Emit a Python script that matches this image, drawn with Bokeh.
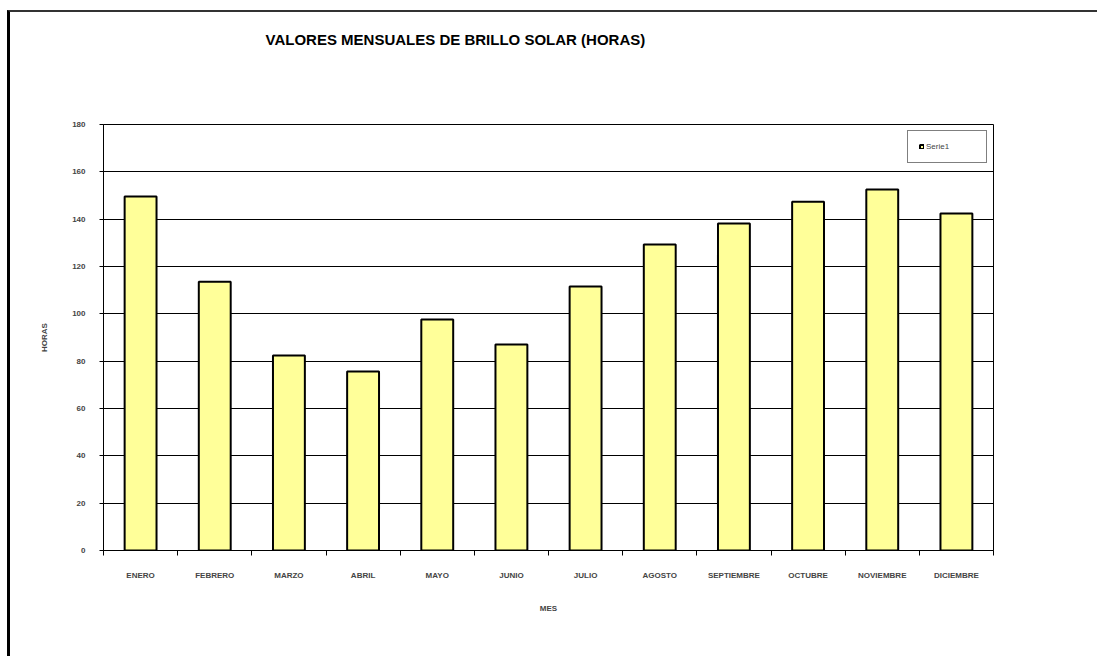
import numpy as np
from bokeh.plotting import figure
from bokeh.models import (Range1d, FixedTicker, Title, Legend, LegendItem, ColumnDataSource,
                          CustomJSTickFormatter)
from bokeh.embed import file_html
from bokeh.resources import INLINE

months = ["ENERO", "FEBRERO", "MARZO", "ABRIL", "MAYO", "JUNIO", "JULIO",
          "AGOSTO", "SEPTIEMBRE", "OCTUBRE", "NOVIEMBRE", "DICIEMBRE"]
hours = [149.6, 113.6, 82.4, 75.6, 97.6, 87.0, 111.5, 129.3, 138.2, 147.4, 152.5, 142.4]
y_ticks = [0, 20, 40, 60, 80, 100, 120, 140, 160, 180]
title_text = "VALORES MENSUALES DE BRILLO SOLAR (HORAS)"
series_name = "Serie1"

FONT = "Liberation Sans"
n = len(months)
centers = (np.arange(n) + 0.5).tolist()
bounds = list(range(n + 1))

p = figure(width=1090, height=646, x_range=Range1d(0, n),
           y_range=Range1d(0, 180), output_backend="svg", toolbar_location=None,
           min_border_left=93, min_border_right=107,
           min_border_top=112, min_border_bottom=108,
           styles={"margin-left": "7px", "margin-top": "10px",
                   "border-left": "3px solid black", "border-top": "2px solid #333"})
p.outline_line_color = "black"
p.outline_line_width = 1
p.xgrid.grid_line_color = None
p.ygrid.grid_line_color = "black"
p.ygrid.grid_line_width = 1
p.ygrid.ticker = FixedTicker(ticks=y_ticks)

src = ColumnDataSource(dict(x=centers, month=months, hours=hours))
r = p.vbar(x="x", top="hours", width=0.43, source=src, fill_color="#FFFF99",
           line_color="black", line_width=2)

# y axis
yax = p.yaxis[0]
yax.ticker = FixedTicker(ticks=y_ticks)
yax.axis_line_color = "black"
yax.major_tick_out = 4
yax.major_tick_in = 0
yax.minor_tick_line_color = None
yax.major_label_standoff = 14
yax.major_label_text_font = FONT
yax.major_label_text_font_style = "bold"
yax.major_label_text_font_size = "8px"
yax.axis_label = "HORAS"
yax.axis_label_text_font = FONT
yax.axis_label_text_font_style = "bold"
yax.axis_label_text_font_size = "8px"
yax.axis_label_standoff = 20

# x axis: labels at centers, ticks at category boundaries
xax = p.xaxis[0]
xax.ticker = FixedTicker(ticks=centers, minor_ticks=bounds)
xax.formatter = CustomJSTickFormatter(args=dict(months=months),
                                      code="return months[Math.floor(tick)] || ''")
xax.axis_line_color = "black"
xax.major_tick_out = 0
xax.major_tick_in = 0
xax.minor_tick_out = 5
xax.minor_tick_in = 0
xax.minor_tick_line_color = "black"
xax.major_label_standoff = 15
xax.major_label_text_font = FONT
xax.major_label_text_font_style = "bold"
xax.major_label_text_font_size = "8px"
xax.axis_label = "MES"
xax.axis_label_text_font = FONT
xax.axis_label_text_font_style = "bold"
xax.axis_label_text_font_size = "8px"
xax.axis_label_standoff = 21

# title: a blank spacer next to the frame, then the real title above it
p.add_layout(Title(text=" ", text_font_size="1px", standoff=74), "above")
p.add_layout(Title(text=title_text, align="left", offset=162, standoff=0,
                   text_font=FONT, text_font_style="bold", text_font_size="15px",
                   text_color="black"), "above")

legend = Legend(items=[LegendItem(label=series_name, renderers=[r])], location="top_right",
                border_line_color="black", border_line_width=1, padding=11,
                glyph_width=5, glyph_height=5, label_standoff=2, label_width=49,
                label_text_font=FONT, label_text_font_size="8px", margin=6,
                background_fill_alpha=1)
p.add_layout(legend, "center")

open("out.html", "w").write(file_html(p, INLINE))
